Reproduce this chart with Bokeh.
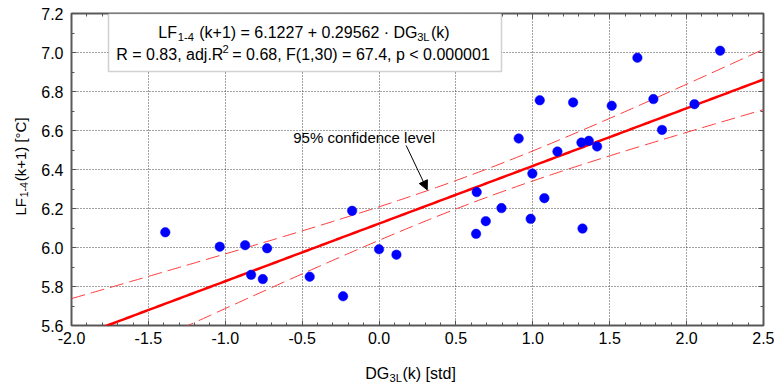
import numpy as np
from bokeh.plotting import figure
from bokeh.models import (LinearAxis, SingleIntervalTicker, NumeralTickFormatter, Label,
                          BoxAnnotation, Arrow, NormalHead, Range1d, ColumnDataSource,
                          CustomLabelingPolicy)
from bokeh.embed import file_html
from bokeh.resources import INLINE

# ---- data ----
dg = [-1.390, -1.036, -0.871, -0.728, -0.832, -0.756, -0.451, -0.234, -0.175, 0.000, 0.113,
      1.045, 1.262, 1.513, 1.680, 2.218, 1.784, 2.051, 1.840, 0.908, 1.160, 1.316,
      1.364, 1.418, 0.997, 0.635, 1.075, 0.796, 0.694, 0.986, 0.631, 1.323]
lf = [6.078, 6.004, 6.012, 5.996, 5.860, 5.838, 5.850, 5.750, 6.188, 5.991, 5.963,
      6.755, 6.744, 6.727, 6.973, 7.009, 6.761, 6.735, 6.603, 6.559, 6.492, 6.538,
      6.547, 6.518, 6.379, 6.284, 6.253, 6.202, 6.135, 6.147, 6.070, 6.097]
intercept = 6.1227
slope = 0.29562
t_crit = 2.0423  # t(0.975, 30)
stats_text = " = 0.68, F(1,30) = 67.4, p < 0.000001"
x_lo, x_hi = -2.0, 2.5
y_lo, y_hi = 5.6, 7.2

FONT = "Liberation Sans"
W, H = 774, 383
BL, BR, BT, BB = 71, 11, 13, 58
FW, FH = W - BL - BR, H - BT - BB
NB = "\u00a0"

# Arial / Liberation Sans advance widths (per 1000 em)
AW = {" ": 278, NB: 278, "(": 333, ")": 333, "+": 584, "=": 584, ".": 278, ",": 278,
      "-": 333, "L": 556, "F": 611, "D": 722, "G": 778, "R": 722, "C": 722, "k": 500,
      "a": 556, "d": 556, "j": 222, "p": 556, "<": 584, "\u00b7": 278, "\u00b0": 400,
      "[": 278, "]": 278, "s": 500, "t": 278, "%": 889}


def tw(s, size):
    return sum(AW.get(c, 556) for c in s) / 1000.0 * size


def px2x(px):
    return x_lo + (px - BL) / FW * (x_hi - x_lo)


def py2y(py):
    return y_hi - (py - BT) / FH * (y_hi - y_lo)


def mk_label(cx, cy, text, fs, angle):
    return Label(x=px2x(cx), y=py2y(cy), text=text, text_font=FONT,
                 text_font_size=f"{fs:.1f}px", text_baseline="alphabetic",
                 text_align="left", angle=angle, text_color="black")


def rich(p, x, y, parts, size, anchor="left", angle=0.0, place="center"):
    """One label for the main text (gaps of no-break spaces where the small
    sub/superscripts go) plus one label per small piece.
    x, y: canvas pixel position (baseline) of the text start / centre."""
    nbw = tw(NB, size)
    main, small, d = "", [], 0.0
    for t, k in parts:
        if k:
            fs = size * 0.7
            w = tw(t, fs)
            nsp = max(1, int(round(w / nbw)))
            gap = nsp * nbw
            shift = 0.25 * size if k == "sub" else -0.38 * size  # + is down
            small.append((t, fs, d + (gap - w) / 2, shift))
            main += NB * nsp
            d += gap
        else:
            t = t.replace(" ", NB) if t.startswith(" ") or t.endswith(" ") else t
            main += t
            d += tw(t, size)
    along0 = (x if angle == 0 else y) - (d / 2 if anchor == "center" else 0)

    def pos(a, perp):
        if angle == 0:
            return along0 + a, y + perp
        return x + perp, along0 - a

    cx, cy = pos(0.0, 0.0)
    p.add_layout(mk_label(cx, cy, main, size, angle), place)
    for t, fs, a, perp in small:
        cx, cy = pos(a, perp)
        p.add_layout(mk_label(cx, cy, t, fs, angle), place)


p = figure(width=W, height=H, output_backend="svg", toolbar_location=None,
           x_range=Range1d(x_lo, x_hi), y_range=Range1d(y_lo, y_hi),
           min_border_left=BL, min_border_right=BR, min_border_top=BT, min_border_bottom=BB)
p.background_fill_color = "white"
p.border_fill_color = "white"
p.outline_line_color = "#5a5a5a"
p.outline_line_width = 2

xt = SingleIntervalTicker(interval=0.5, num_minor_ticks=5)
yt = SingleIntervalTicker(interval=0.2, num_minor_ticks=2)
p.xaxis.ticker = xt
p.yaxis.ticker = yt
p.xgrid.ticker = xt
p.ygrid.ticker = yt
for ax in (p.xaxis[0], p.yaxis[0]):
    ax.formatter = NumeralTickFormatter(format="0.0")
    ax.major_label_text_font = FONT
    ax.major_label_text_font_size = "16px"
    ax.major_label_text_color = "black"
    ax.axis_line_color = None
    ax.major_tick_in = 5
    ax.major_tick_out = 0
    ax.minor_tick_in = 3
    ax.minor_tick_out = 0
    ax.major_tick_line_color = "#555555"
    ax.minor_tick_line_color = "#555555"
p.xaxis[0].major_label_standoff = 6
p.yaxis[0].major_label_standoff = 8

# top / right: tick marks only (no labels drawn)
no_labels = CustomLabelingPolicy(code="""
const all = [...indices]
for (const i of all) indices.unset(i)
return indices
""")
for loc, tk in (("above", xt), ("right", yt)):
    ax = LinearAxis(ticker=tk, major_label_policy=no_labels, major_label_standoff=0,
                    major_label_text_font_size="0px",
                    axis_line_color=None, major_tick_in=5, major_tick_out=0,
                    minor_tick_in=3, minor_tick_out=0,
                    major_tick_line_color="#555555", minor_tick_line_color="#555555")
    p.add_layout(ax, loc)

for g in (p.xgrid[0], p.ygrid[0]):
    g.grid_line_color = "#444444"
    g.grid_line_dash = "1 2"
    g.grid_line_width = 1

# regression and confidence band
xa = np.array(dg)
ya = np.array(lf)
n = len(xa)
xbar = xa.mean()
sxx = ((xa - xbar) ** 2).sum()
resid = ya - (intercept + slope * xa)
s = np.sqrt((resid ** 2).sum() / (n - 2))
xs = np.linspace(x_lo, x_hi, 200)
yhat = intercept + slope * xs
hw = t_crit * s * np.sqrt(1.0 / n + (xs - xbar) ** 2 / sxx)
band = ColumnDataSource(dict(x=xs, y=yhat, lo=yhat - hw, hi=yhat + hw))

p.line("x", "hi", source=band, line_color="#ff3a3a", line_width=1, line_dash="14 6")
p.line("x", "lo", source=band, line_color="#ff3a3a", line_width=1, line_dash="14 6")
p.line("x", "y", source=band, line_color="#ff0000", line_width=2.5)

p.scatter(dg, lf, size=9.5, fill_color="#0000ff", line_color="#0000ff", line_width=0.5)

# annotation
p.add_layout(Label(x=px2x(292.7), y=py2y(137), text="95% confidence level", text_font=FONT,
                   text_font_size="15px", text_baseline="alphabetic", text_color="black"))
p.add_layout(Arrow(end=NormalHead(size=9, fill_color="black", line_color="black"),
                   x_start=px2x(405.7), y_start=py2y(145), x_end=px2x(426.7), y_end=py2y(189.3),
                   line_color="black", line_width=1))

# statistics box
p.add_layout(BoxAnnotation(left=px2x(108), right=px2x(501), top=py2y(13), bottom=py2y(71),
                           fill_color="white", fill_alpha=1.0,
                           line_color="#666666", line_width=1.5))
rich(p, 303, 32, [("LF", ""), ("1-4", "sub"),
                  (f" (k+1) = {intercept} + {slope} \u00b7 DG", ""), ("3L", "sub"), ("(k)", "")],
     16, anchor="center")
rich(p, 302.5, 54.3, [("R = 0.83, adj.R", ""), ("2", "sup"), (stats_text, "")],
     16, anchor="center")

# axis titles (outside the frame: drawn from the side panels)
rich(p, 410, 373.3, [("DG", ""), ("3L", "sub"), ("(k) [std]", "")], 16, anchor="center",
     place="below")
rich(p, 20, 215, [("LF", ""), ("1-4", "sub"), ("(k+1) [\u00b0C]", "")], 15,
     anchor="left", angle=np.pi / 2, place="left")

open("out.html", "w").write(file_html(p, INLINE))
